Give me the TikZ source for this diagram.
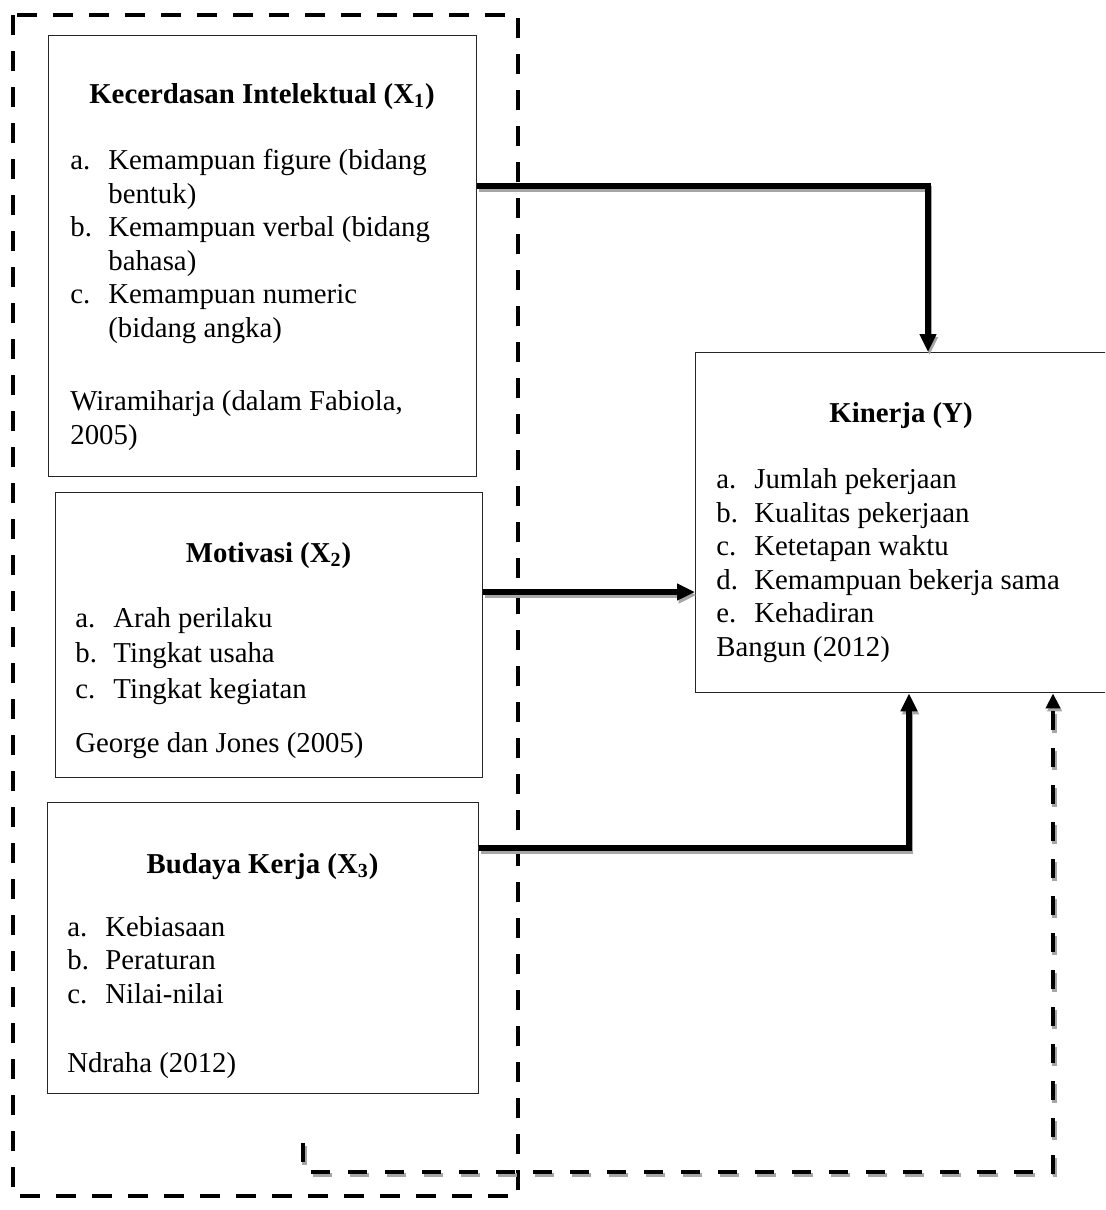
\documentclass[tikz,border=0pt]{standalone}
\usepackage{fontspec}
\setmainfont{Liberation Serif}
\usetikzlibrary{arrows.meta}
\usetikzlibrary{positioning}
\newcommand{\lbl}[1]{\makebox[19pt][l]{#1}}
\newcommand{\hang}{\hspace*{19pt}}
\tikzset{
    varbox/.style={draw=black!85, line width=0.7pt, anchor=north west, inner sep=0pt},
    boxtitle/.style={anchor=base, inner sep=0pt, font=\fontsize{14.4}{16.75}\selectfont\bfseries},
    boxtext/.style={anchor=base west, align=left, inner sep=0pt, font=\fontsize{14.4}{16.75}\selectfont},
    dashframe/.style={draw=black, line width=2pt, dash pattern=on 10pt off 8pt},
    link/.style={draw=black, line width=2.7pt, -{Triangle[length=9pt,width=8pt]},
        preaction={draw=black!35, line width=2.7pt, -{Triangle[length=9pt,width=8pt]},
            transform canvas={xshift=0.8pt,yshift=-1.5pt}}},
    feedback/.style={draw=black, line width=2.2pt, dash pattern=on 9.5pt off 9pt,
        -{Triangle[length=7.5pt,width=7pt]},
        preaction={draw=black!35, line width=2.2pt, dash pattern=on 9.5pt off 9pt,
            -{Triangle[length=7.5pt,width=7pt]},
            transform canvas={xshift=0.8pt,yshift=-1.5pt}}},
}
\begin{document}
\begin{tikzpicture}[x=0.5pt, y=-0.5pt]
	\clip (0,0) rectangle (1105,1210);
	\fill[white] (0,0) rectangle (1105,1210);
	\draw[dashframe] (13,15) rectangle (518,1196);
	% independent variables (last baseline of each text block given)
	\node[varbox, minimum width=214pt, minimum height=220.5pt] (kecerdasan) at (48,35) {};
	\node[boxtitle] (kecerdasan-t) at (262,103) {Kecerdasan Intelektual (X\textsubscript{1})};
	\node[boxtext] (kecerdasan-l) at (70,337) {\lbl{a.}Kemampuan figure (bidang\\
		\hang bentuk)\\
		\lbl{b.}Kemampuan verbal (bidang\\
		\hang bahasa)\\
		\lbl{c.}Kemampuan numeric\\
		\hang (bidang angka)};
	\node[boxtext] (kecerdasan-s) at (70,444) {Wiramiharja (dalam Fabiola,\\2005)};
	\node[varbox, minimum width=213.5pt, minimum height=142.5pt] (motivasi) at (55,492) {};
	\node[boxtitle] (motivasi-t) at (268.5,562) {Motivasi (X\textsubscript{2})};
	\node[boxtext] (motivasi-l) at (75,698) {\lbl{a.}Arah perilaku\\[1pt]
		\lbl{b.}Tingkat usaha\\[1pt]
		\lbl{c.}Tingkat kegiatan};
	\node[boxtext] (motivasi-s) at (75,752) {George dan Jones (2005)};
	\node[varbox, minimum width=215.5pt, minimum height=145.5pt] (budaya) at (47,802) {};
	\node[boxtitle] (budaya-t) at (262.5,873) {Budaya Kerja (X\textsubscript{3})};
	\node[boxtext] (budaya-l) at (67,1003) {\lbl{a.}Kebiasaan\\
		\lbl{b.}Peraturan\\
		\lbl{c.}Nilai-nilai};
	\node[boxtext] (budaya-s) at (67,1072) {Ndraha (2012)};
	% dependent variable
	\node[varbox, minimum width=206.5pt, minimum height=170pt] (kinerja) at (695,352) {};
	\node[boxtitle] (kinerja-t) at (901,422) {Kinerja (Y)};
	\node[boxtext] (kinerja-l) at (716,656) {\lbl{a.}Jumlah pekerjaan\\
		\lbl{b.}Kualitas pekerjaan\\
		\lbl{c.}Ketetapan waktu\\
		\lbl{d.}Kemampuan bekerja sama\\
		\lbl{e.}Kehadiran\\
		Bangun (2012)};
	% connectors
	\draw[link] (kecerdasan.east |- 0,186) -| (kinerja.north -| 928,0);
	\draw[link] (motivasi.east |- 0,592) -- (kinerja.west |- 0,592);
	\draw[link] (budaya.east |- 0,848) -| (kinerja.south -| 909,0);
	\coordinate (umpan) at (303,1143);
	\coordinate (umpan-r) at (1053,1172);
	\draw[feedback] (umpan) |- (umpan-r) -- (kinerja.south -| umpan-r);
\end{tikzpicture}
\end{document}
